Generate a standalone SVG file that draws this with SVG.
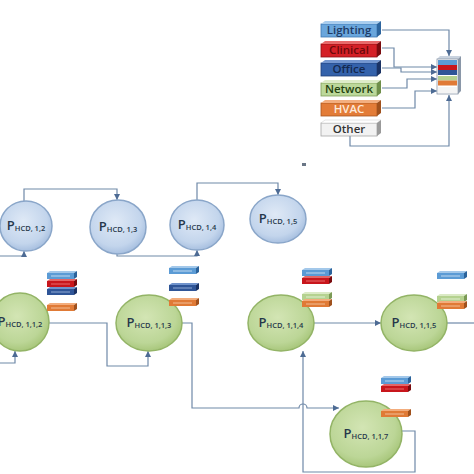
<svg xmlns="http://www.w3.org/2000/svg" xmlns:xlink="http://www.w3.org/1999/xlink" width="474" height="474" viewBox="0 0 474 474">
<style>
.con{fill:none;stroke:#6f89a8;stroke-width:1.2}
.arr{marker-end:url(#ah)}
.nt{font-family:"Open Sans","Liberation Sans",sans-serif;font-weight:600;fill:#26374a;text-anchor:middle}
.nt .p{font-size:13px}
.nt .s{font-size:7.5px}
.lt{font-family:"Open Sans","Liberation Sans",sans-serif;font-weight:600;font-size:11.5px;text-anchor:middle}
.blue{fill:url(#gBlue);stroke:#8aa6c9;stroke-width:1.5}
.green{fill:url(#gGreen);stroke:#93b466;stroke-width:1.5}
</style>
<defs>
<marker id="ah" viewBox="0 0 6 6" refX="6" refY="3" markerWidth="6" markerHeight="6" markerUnits="userSpaceOnUse" orient="auto">
<path d="M0,0 L6,3 L0,6 z" fill="#4d6b94"/>
</marker>
<radialGradient id="gBlue" cx="0.45" cy="0.4" r="0.65">
<stop offset="0" stop-color="#dfe9f6"/>
<stop offset="0.7" stop-color="#c3d5ec"/>
<stop offset="1" stop-color="#9fb9dc"/>
</radialGradient>
<radialGradient id="gGreen" cx="0.45" cy="0.4" r="0.65">
<stop offset="0" stop-color="#d3e5b4"/>
<stop offset="0.7" stop-color="#bcd697"/>
<stop offset="1" stop-color="#a2c273"/>
</radialGradient>
<g id="bLB"><rect x="0" y="2" width="27" height="6" fill="#5b9bd5"/><polygon points="0,2 3,0 30,0 27,2" fill="#a3c8ea"/><polygon points="27,2 30,0 30,6 27,8" fill="#2b639b"/><line x1="4" y1="5" x2="23" y2="5" stroke="#dbeaf7" stroke-width="0.8"/></g>
<g id="bRD"><rect x="0" y="2" width="27" height="6" fill="#c8161c"/><polygon points="0,2 3,0 30,0 27,2" fill="#e46666"/><polygon points="27,2 30,0 30,6 27,8" fill="#7a0b0e"/><line x1="4" y1="5" x2="23" y2="5" stroke="#f08080" stroke-width="0.8"/></g>
<g id="bDB"><rect x="0" y="2" width="27" height="6" fill="#2f5597"/><polygon points="0,2 3,0 30,0 27,2" fill="#7093cc"/><polygon points="27,2 30,0 30,6 27,8" fill="#1a3264"/><line x1="4" y1="5" x2="23" y2="5" stroke="#a9c0e6" stroke-width="0.8"/></g>
<g id="bGR"><rect x="0" y="2" width="27" height="6" fill="#b5d290"/><polygon points="0,2 3,0 30,0 27,2" fill="#dbeac5"/><polygon points="27,2 30,0 30,6 27,8" fill="#7b9a55"/><line x1="4" y1="5" x2="23" y2="5" stroke="#eef6e2" stroke-width="0.8"/></g>
<g id="bOR"><rect x="0" y="2" width="27" height="6" fill="#e07a36"/><polygon points="0,2 3,0 30,0 27,2" fill="#f3ad7d"/><polygon points="27,2 30,0 30,6 27,8" fill="#a0511d"/><line x1="4" y1="5" x2="23" y2="5" stroke="#f8cfae" stroke-width="0.8"/></g>
<g id="LB"><rect x="0" y="3" width="56" height="13" fill="#6aa6dc" stroke="#3f78b2" stroke-width="0.8"/><polygon points="0,3 4,0 60,0 56,3" fill="#a9cdee"/><polygon points="56,3 60,0 60,13 56,16" fill="#2d659e"/></g>
<g id="LR"><rect x="0" y="3" width="56" height="13" fill="#d42026" stroke="#8d1014" stroke-width="0.8"/><polygon points="0,3 4,0 60,0 56,3" fill="#e86a6a"/><polygon points="56,3 60,0 60,13 56,16" fill="#7a0b0e"/></g>
<g id="LD"><rect x="0" y="3" width="56" height="13" fill="#3462ab" stroke="#1f3f78" stroke-width="0.8"/><polygon points="0,3 4,0 60,0 56,3" fill="#7497d0"/><polygon points="56,3 60,0 60,13 56,16" fill="#1a3264"/></g>
<g id="LG"><rect x="0" y="3" width="56" height="13" fill="#bcd89a" stroke="#7f9e5a" stroke-width="0.8"/><polygon points="0,3 4,0 60,0 56,3" fill="#deecc9"/><polygon points="56,3 60,0 60,13 56,16" fill="#6f8f4a"/></g>
<g id="LO"><rect x="0" y="3" width="56" height="13" fill="#e37c38" stroke="#a8561f" stroke-width="0.8"/><polygon points="0,3 4,0 60,0 56,3" fill="#f3ae7f"/><polygon points="56,3 60,0 60,13 56,16" fill="#a0511d"/></g>
<g id="LW"><rect x="0" y="3" width="56" height="13" fill="#f2f2f2" stroke="#a6a6a6" stroke-width="0.8"/><polygon points="0,3 4,0 60,0 56,3" fill="#ffffff" stroke="#c8c8c8" stroke-width="0.5"/><polygon points="56,3 60,0 60,13 56,16" fill="#9a9a9a"/></g>
</defs>
<rect width="474" height="474" fill="#ffffff"/>

<g id="connectors">
<path class="con arr" d="M382,30 H449 V56"/>
<path class="con arr" d="M382,48 H394 V67 H437"/>
<path class="con arr" d="M382,68 H401 V72 H437"/>
<path class="con arr" d="M382,88 H407 V79 H437"/>
<path class="con arr" d="M382,108 H415 V91 H437"/>
<path class="con arr" d="M350,136 V146 H449 V95"/>
<path class="con arr" d="M24,201 V189 H117 V200"/>
<path class="con arr" d="M197,200 V183 H278 V195"/>
<path class="con arr" d="M0,256 H24 V251"/>
<path class="con arr" d="M117,254 V256 H197 V250"/>
<path class="con arr" d="M0,363 H15 V351"/>
<path class="con arr" d="M49,323 H107 V366 H148 V351"/>
<path class="con arr" d="M182,323 H192 V408 H299 A4,4 0 0 1 307,408 H339"/>
<path class="con arr" d="M401,431 H415 V472 H303 V351"/>
<path class="con arr" d="M314,323 H381"/>
<path class="con" d="M447,323 H474"/>
</g>

<g id="legend">
<use href="#LB" x="321" y="21"/>
<text class="lt" x="349" y="34" fill="#1f3b66">Lighting</text>
<use href="#LR" x="321" y="41"/>
<text class="lt" x="349" y="54" fill="#6b0a0a">Clinical</text>
<use href="#LD" x="321" y="60"/>
<text class="lt" x="349" y="73" fill="#14294f">Office</text>
<use href="#LG" x="321" y="80"/>
<text class="lt" x="349" y="93" fill="#24420f">Network</text>
<use href="#LO" x="321" y="100"/>
<text class="lt" x="349" y="113" fill="#fde9d9">HVAC</text>
<use href="#LW" x="321" y="120"/>
<text class="lt" x="349" y="133" fill="#333333">Other</text>
</g>

<g id="stack">
<polygon points="437,59 440,56 461,56 458,59" fill="#c9d3df"/>
<polygon points="458,59 461,56 461,91 458,94" fill="#8a97a8"/>
<rect x="437" y="59" width="21" height="35" fill="#ffffff" stroke="#8a97a8" stroke-width="0.8"/>
<rect x="438" y="60" width="19" height="5" fill="#5b9bd5"/>
<rect x="438" y="65" width="19" height="5" fill="#c8161c"/>
<rect x="438" y="70" width="19" height="5" fill="#2f5597"/>
<rect x="438" y="76" width="19" height="4.5" fill="#b5d290"/>
<rect x="438" y="80.5" width="19" height="5" fill="#e07a36"/>
<rect x="438" y="87" width="19" height="6" fill="#f4f4f4"/>
</g>

<rect x="302" y="163" width="4" height="3" fill="#6a7686"/>

<g id="n12"><ellipse class="blue" cx="26" cy="226" rx="26" ry="25"/>
<text class="nt" x="26" y="230"><tspan class="p">P</tspan><tspan class="s" dy="1">HCD, 1,2</tspan></text></g>
<g id="n13"><ellipse class="blue" cx="118" cy="227" rx="28" ry="27"/>
<text class="nt" x="118" y="231"><tspan class="p">P</tspan><tspan class="s" dy="1">HCD, 1,3</tspan></text></g>
<g id="n14"><ellipse class="blue" cx="197" cy="225" rx="27" ry="25"/>
<text class="nt" x="197" y="229"><tspan class="p">P</tspan><tspan class="s" dy="1">HCD, 1,4</tspan></text></g>
<g id="n15"><ellipse class="blue" cx="278" cy="219" rx="28" ry="24"/>
<text class="nt" x="278" y="223"><tspan class="p">P</tspan><tspan class="s" dy="1">HCD, 1,5</tspan></text></g>

<g id="n112"><ellipse class="green" cx="20" cy="322" rx="29" ry="29"/>
<text class="nt" x="20" y="326"><tspan class="p">P</tspan><tspan class="s" dy="1">HCD, 1,1,2</tspan></text>
<use href="#bLB" x="47" y="271"/><use href="#bRD" x="47" y="279"/><use href="#bDB" x="47" y="287"/><use href="#bOR" x="47" y="303"/></g>
<g id="n113"><ellipse class="green" cx="149" cy="323" rx="33" ry="28"/>
<text class="nt" x="149" y="327"><tspan class="p">P</tspan><tspan class="s" dy="1">HCD, 1,1,3</tspan></text>
<use href="#bLB" x="169" y="266"/><use href="#bDB" x="169" y="283"/><use href="#bOR" x="169" y="298"/></g>
<g id="n114"><ellipse class="green" cx="281" cy="323" rx="33" ry="28"/>
<text class="nt" x="281" y="327"><tspan class="p">P</tspan><tspan class="s" dy="1">HCD, 1,1,4</tspan></text>
<use href="#bLB" x="302" y="268"/><use href="#bRD" x="302" y="276"/><use href="#bGR" x="302" y="292"/><use href="#bOR" x="302" y="299"/></g>
<g id="n115"><ellipse class="green" cx="414" cy="323" rx="33" ry="28"/>
<text class="nt" x="414" y="327"><tspan class="p">P</tspan><tspan class="s" dy="1">HCD, 1,1,5</tspan></text>
<use href="#bLB" x="437" y="271"/><use href="#bGR" x="437" y="294"/><use href="#bOR" x="437" y="301"/></g>
<g id="n117"><ellipse class="green" cx="366" cy="434" rx="36" ry="33"/>
<text class="nt" x="366" y="438"><tspan class="p">P</tspan><tspan class="s" dy="1">HCD, 1,1,7</tspan></text>
<use href="#bLB" x="381" y="376"/><use href="#bRD" x="381" y="384"/><use href="#bOR" x="381" y="409"/></g>
</svg>
